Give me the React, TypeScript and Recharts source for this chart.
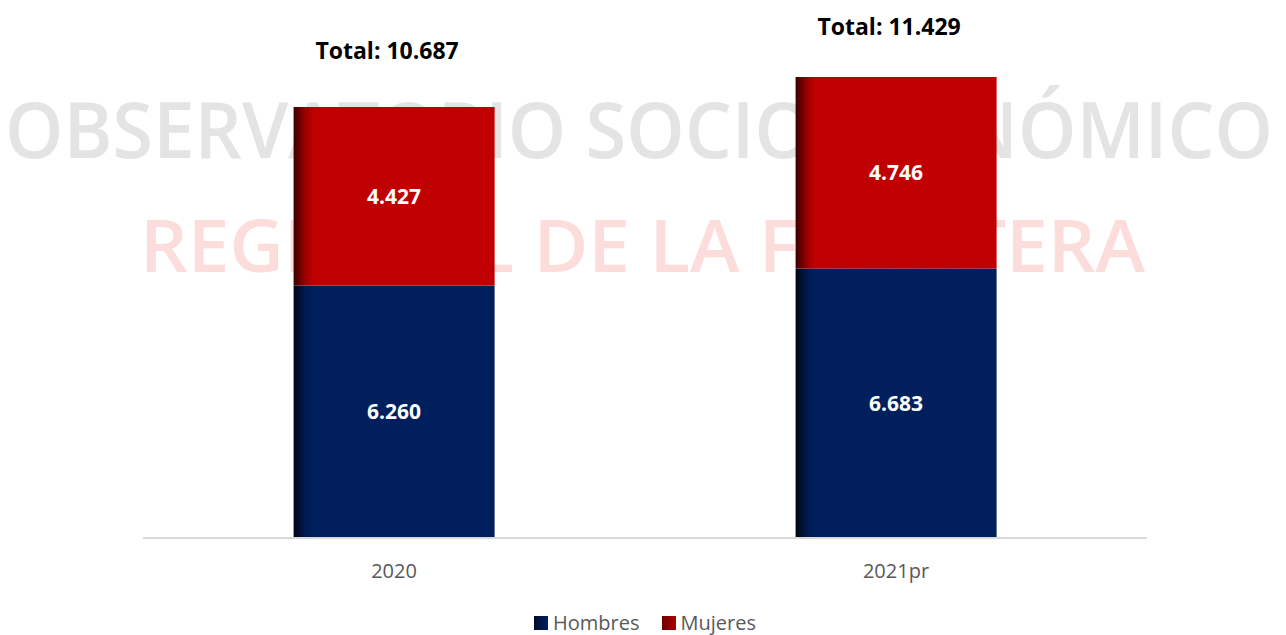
import React from "react";
import { BarChart, Bar, XAxis, YAxis, LabelList, Legend } from "recharts";

const years = ["2020", "2021pr"];
const hombres = [6260, 6683];
const mujeres = [4427, 4746];
const totals = [10687, 11429];

const data = years.map((year, i) => ({
  year,
  Hombres: hombres[i],
  Mujeres: mujeres[i],
  total: totals[i],
}));

const fmt = (v: number) => v.toLocaleString("de-DE");
const FONT = "'Open Sans', 'Noto Sans', sans-serif";

// per-bar lift of the "Total" label above the bar top (hand placed in the source)
const totalLift = [57, 51];

const TotalLabel = (props: any) => {
  const { x, y, width, index } = props;
  return (
    <text
      x={x + width / 2 - 7}
      y={y - totalLift[index]}
      textAnchor="middle"
      dominantBaseline="central"
      fontFamily={FONT}
      fontWeight={700}
      fontSize={23}
      fill="#000"
    >
      {`Total: ${fmt(totals[index])}`}
    </text>
  );
};

const LegendContent = () => (
  <div
    style={{
      display: "flex",
      justifyContent: "center",
      gap: 22,
      fontFamily: FONT,
      fontSize: 20,
      color: "#595959",
    }}
  >
    {[
      { name: "Hombres", a: "#000a30", b: "#002060" },
      { name: "Mujeres", a: "#6a0000", b: "#b00000" },
    ].map((item) => (
      <span key={item.name} style={{ display: "flex", alignItems: "center", gap: 5 }}>
        <span
          style={{
            width: 14,
            height: 14,
            display: "inline-block",
            background: `linear-gradient(to right, ${item.a}, ${item.b})`,
          }}
        />
        {item.name}
      </span>
    ))}
  </div>
);

export default function App() {
  return (
    <div style={{ position: "relative", width: 1286, height: 635 }}>
      <style>{`body{margin:0}`}</style>
      <svg
        width={1286}
        height={635}
        style={{ position: "absolute", left: 0, top: 0 }}
      >
        <text
          x={5}
          y={158}
          textLength={1268}
          lengthAdjust="spacingAndGlyphs"
          fontFamily={FONT}
          fontWeight={600}
          fontSize={78}
          fill="#e4e4e4"
        >
          OBSERVATORIO SOCIOECONÓMICO
        </text>
        <text
          x={140}
          y={272}
          textLength={1005}
          lengthAdjust="spacingAndGlyphs"
          fontFamily={FONT}
          fontWeight={600}
          fontSize={73}
          fill="#fddcdc"
        >
          REGIONAL DE LA FRONTERA
        </text>
      </svg>
      <div style={{ position: "absolute", left: 0, top: 0 }}>
        <BarChart
          width={1286}
          height={635}
          data={data}
          margin={{ top: 54, right: 139, bottom: 0, left: 143 }}
          barCategoryGap="30%"
        >
          <defs>
            <linearGradient id="gH" x1="0" y1="0" x2="1" y2="0">
              <stop offset="0" stopColor="#000514" />
              <stop offset="0.06" stopColor="#001a52" />
              <stop offset="0.1" stopColor="#001f5c" />
              <stop offset="1" stopColor="#001f5c" />
            </linearGradient>
            <linearGradient id="gM" x1="0" y1="0" x2="1" y2="0">
              <stop offset="0" stopColor="#3a0000" />
              <stop offset="0.06" stopColor="#a00000" />
              <stop offset="0.1" stopColor="#c00000" />
              <stop offset="1" stopColor="#c00000" />
            </linearGradient>
          </defs>
          <XAxis
            dataKey="year"
            height={67}
            tickLine={false}
            axisLine={{ stroke: "#d9d9d9", strokeWidth: 2 }}
            tick={{ fill: "#595959", fontSize: 20, fontFamily: FONT }}
            dy={18}
          />
          <YAxis hide domain={[0, 12000]} />
          <Legend
            verticalAlign="bottom"
            height={30}
            wrapperStyle={{ bottom: -4 }}
            content={<LegendContent />}
          />
          <Bar dataKey="Hombres" stackId="a" fill="url(#gH)" isAnimationActive={false}>
            <LabelList
              dataKey="Hombres"
              position="center"
              formatter={(v: any) => fmt(Number(v))}
              style={{ fill: "#fff", fontWeight: 700, fontSize: 21, fontFamily: FONT }}
            />
          </Bar>
          <Bar dataKey="Mujeres" stackId="a" fill="url(#gM)" isAnimationActive={false}>
            <LabelList
              dataKey="Mujeres"
              position="center"
              formatter={(v: any) => fmt(Number(v))}
              style={{ fill: "#fff", fontWeight: 700, fontSize: 21, fontFamily: FONT }}
            />
            <LabelList dataKey="total" content={<TotalLabel />} />
          </Bar>
        </BarChart>
      </div>
    </div>
  );
}
